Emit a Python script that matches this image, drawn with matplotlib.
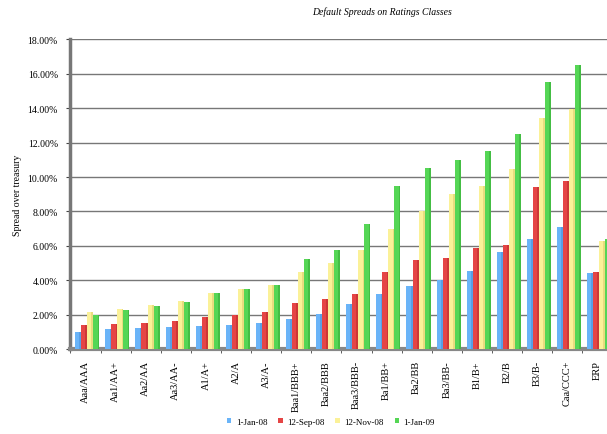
import matplotlib.pyplot as plt
import numpy as np

plt.rcParams['font.family'] = ['Liberation Serif', 'DejaVu Serif']

ratings = ['Aaa/AAA', 'Aa1/AA+', 'Aa2/AA', 'Aa3/AA-', 'A1/A+', 'A2/A', 'A3/A-',
           'Baa1/BBB+', 'Baa2/BBB', 'Baa3/BBB-', 'Ba1/BB+', 'Ba2/BB', 'Ba3/BB-',
           'B1/B+', 'B2/B', 'B3/B-', 'Caa/CCC+', 'ERP']
jan08 = [1.00, 1.15, 1.25, 1.30, 1.35, 1.40, 1.50, 1.75, 2.05, 2.60, 3.20, 3.65,
         4.00, 4.55, 5.65, 6.40, 7.10, 4.40]
sep08 = [1.40, 1.45, 1.50, 1.65, 1.85, 1.95, 2.15, 2.65, 2.90, 3.20, 4.45, 5.15,
         5.30, 5.85, 6.05, 9.40, 9.75, 4.50]
nov08 = [2.15, 2.30, 2.55, 2.80, 3.25, 3.50, 3.75, 4.50, 5.00, 5.75, 7.00, 8.00,
         9.00, 9.50, 10.45, 13.45, 13.95, 6.30]
jan09 = [2.00, 2.25, 2.50, 2.75, 3.25, 3.50, 3.75, 5.25, 5.75, 7.25, 9.50, 10.50,
         11.00, 11.50, 12.50, 15.50, 16.50, 6.40]
series = [('1-Jan-08', jan08, '#6ab4f8', '#4a8fd6'),
          ('12-Sep-08', sep08, '#e54545', '#b82c2c'),
          ('12-Nov-08', nov08, '#fbf198', '#d9cc6c'),
          ('1-Jan-09', jan09, '#55d655', '#36a936')]

fig = plt.figure(figsize=(6.07, 4.35), dpi=100)
ax = fig.add_axes([0.116, 0.1954, 0.893, 0.7115])

x = np.arange(len(ratings))
w = 0.2
for i, (name, vals, col, dark) in enumerate(series):
    pos = x + (i - 1.5) * w + 0.06
    ax.bar(pos, vals, width=w, color=col, label=name, zorder=3, linewidth=0)
    # darker right side for a bit of depth
    ax.bar(pos + w * 0.35, vals, width=w * 0.3, color=dark, zorder=3, linewidth=0, alpha=0.55)

ax.set_xlim(-0.5, len(ratings) - 0.5)
ax.set_ylim(0, 18)
yt = np.arange(0, 18.1, 2)
ax.set_yticks(yt)
ax.set_yticklabels(['%.2f%%' % v for v in yt], fontsize=7)
ax.set_xticks(x)
ax.set_xticklabels(ratings, rotation=90, fontsize=7.5)
ax.set_xticks(np.arange(-0.5, len(ratings), 1), minor=True)
ax.tick_params(axis='x', which='major', length=0, pad=8)
ax.tick_params(axis='x', which='minor', length=3, color='#444444')
ax.tick_params(axis='y', length=3, color='#444444', pad=6)

ax.grid(axis='y', color='#777777', linewidth=1, zorder=0)
for s in ['top', 'right']:
    ax.spines[s].set_visible(False)
ax.spines['left'].set_color('#777777')
ax.spines['left'].set_linewidth(2.5)
ax.spines['bottom'].set_color('#888888')
ax.spines['bottom'].set_linewidth(3)

ax.set_ylabel('Spread over treasury', fontsize=7)
fig.text(0.63, 0.965, 'Default Spreads on Ratings Classes', fontsize=7,
         style='italic', ha='center')

handles, labels = ax.get_legend_handles_labels()
fig.legend([h[0] for h in ax.containers[0::2]], [s[0] for s in series],
           loc='lower center', bbox_to_anchor=(0.545, 0.0), ncol=4, frameon=False,
           fontsize=6.5, handlelength=0.5, handleheight=0.5, handletextpad=0.5,
           columnspacing=1.2)

plt.savefig('out.png', dpi=100)
